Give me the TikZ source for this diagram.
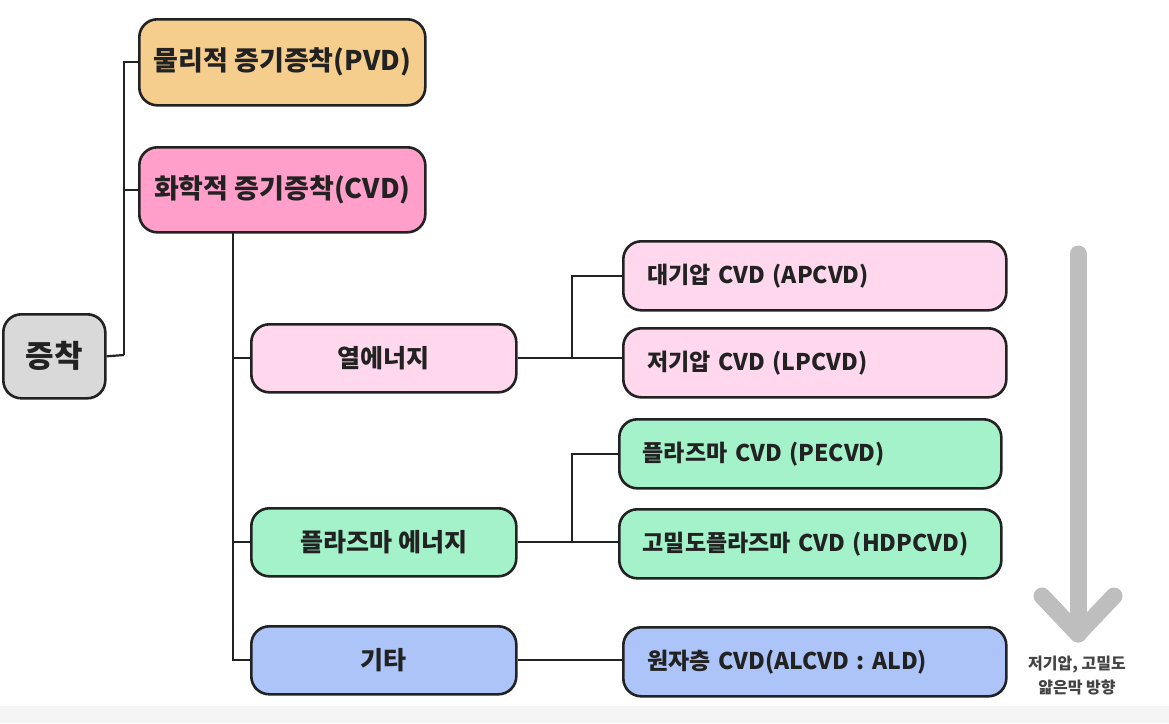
\documentclass[tikz,border=0pt]{standalone}
\usepackage{fontspec}
\setmainfont{Noto Sans CJK KR}
\definecolor{rootgray}{HTML}{D9D9D9}
\definecolor{pvdtan}{HTML}{F5CE8E}
\definecolor{cvdpink}{HTML}{FF9FCA}
\definecolor{heatpink}{HTML}{FFD8EE}
\definecolor{plasmagreen}{HTML}{A3F2CA}
\definecolor{etcblue}{HTML}{ACC4F7}
\definecolor{arrowgray}{HTML}{BEBEBE}
\definecolor{ink}{HTML}{222222}
\begin{document}
\begin{tikzpicture}[x=1pt,y=-1pt]
	\tikzstyle{rbox}=[anchor=north west, draw=ink, line width=2.6pt, shape=rectangle, rounded corners=18pt, inner sep=0pt, text=ink];
	\tikzstyle{bignode}=[rbox, font=\fontsize{27}{31}\selectfont\bfseries];
	\tikzstyle{midnode}=[rbox, minimum width=265pt, minimum height=68pt, font=\fontsize{25}{29}\selectfont\bfseries];
	\tikzstyle{leafnode}=[rbox, minimum width=383pt, minimum height=69pt, text width=335pt, align=left, font=\fontsize{23}{27}\selectfont\bfseries];
	\tikzstyle{link}=[draw=ink, line width=2.2pt];

	\useasboundingbox (0,0) rectangle (1169,723);
	\fill[black!4] (0,706) rectangle (1169,723);

	\node[bignode, fill=rootgray, minimum width=102pt, minimum height=84pt, font=\fontsize{31}{35}\selectfont\bfseries] (root) at (2,313) {증착};
	\node[bignode, fill=pvdtan, minimum width=286pt, minimum height=86pt] (pvd) at (138,18) {물리적 증기증착(PVD)};
	\node[bignode, fill=cvdpink, minimum width=286pt, minimum height=85pt] (cvd) at (138,146) {화학적 증기증착(CVD)};

	\node[midnode, fill=heatpink] (heat) at (250,323) {열에너지};
	\node[midnode, fill=plasmagreen] (plasma) at (250,507) {플라즈마 에너지};
	\node[midnode, fill=etcblue] (etc) at (250,625) {기타};

	\node[leafnode, fill=heatpink] (apcvd) at (622,240) {대기압 CVD (APCVD)};
	\node[leafnode, fill=heatpink] (lpcvd) at (622,327) {저기압 CVD (LPCVD)};
	\node[leafnode, fill=plasmagreen, minimum width=382pt] (pecvd) at (618,418) {플라즈마 CVD (PECVD)};
	\node[leafnode, fill=plasmagreen, minimum width=382pt] (hdpcvd) at (618,508) {고밀도플라즈마 CVD (HDPCVD)};
	\node[leafnode, fill=etcblue] (ald) at (622,626) {원자층 CVD(ALCVD : ALD)};

	\coordinate (j0) at (124,355);
	\coordinate (j1) at (233,231);
	\coordinate (j2) at (572,357);
	\coordinate (j3) at (572,542);

	\draw[link] (root.east) -- (j0);
	\draw[link] (j0) |- (pvd.west);
	\draw[link] (j0) |- (cvd.west);

	\draw[link] (j1) |- (heat.west);
	\draw[link] (j1) |- (plasma.west);
	\draw[link] (j1) |- (etc.west);

	\draw[link] (heat.east) -- (heat.east -| lpcvd.west);
	\draw[link] (j2) |- (apcvd.west);
	\draw[link] (plasma.east) -- (plasma.east -| hdpcvd.west);
	\draw[link] (j3) |- (pecvd.west);
	\draw[link] (etc.east) -- (etc.east -| ald.west);

	% direction arrow
	\coordinate (atop) at (1078,254);
	\coordinate (atip) at (1078,634);
	\draw[arrowgray, line width=17pt, line cap=round] (atop) -- (atip);
	\draw[arrowgray, line width=17pt, line cap=round, line join=round] (1042,596) -- (atip) -- (1114,596);
	\node[font=\fontsize{16}{24}\selectfont\bfseries, align=center, text=ink!85] (note) at (1077,676) {저기압, 고밀도\\얇은막 방향};
\end{tikzpicture}
\end{document}
